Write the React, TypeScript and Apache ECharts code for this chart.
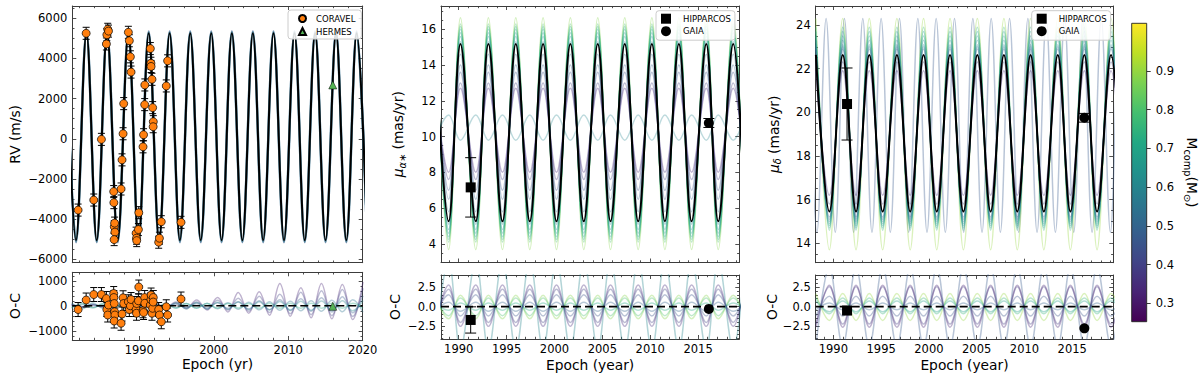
import React, { useEffect, useRef } from "react";
import * as echarts from "echarts";

// ================= Left column: radial velocity =================
const rvEpochLimits = [1981.0, 2020.0];
const rvEpochTicks = [1990, 2000, 2010, 2020];
const rvLimits = [-6170, 6610];
const rvTicks = [-6000, -4000, -2000, 0, 2000, 4000, 6000];
const rvOCLimits = [-1370, 1340];
const rvOCTicks = [-1000, 0, 1000];

// best-fit orbit: epochs of maxima / minima and their values
const rvFitPeakEpochs = [1980.11, 1982.9, 1985.67, 1988.53, 1991.26, 1994.07, 1996.84, 1999.66, 2002.43, 2005.25, 2008.02, 2010.84, 2013.61, 2016.42, 2019.19];
const rvFitTroughEpochs = [1981.5, 1984.28, 1987.1, 1989.9, 1992.66, 1995.45, 1998.25, 2001.05, 2003.84, 2006.63, 2009.43, 2012.22, 2015.01, 2017.8, 2020.6];
const rvFitPeak = 5250;
const rvFitTrough = -5050;
// posterior draws (nearly identical in RV)
const rvDrawMass = [0.45, 0.52, 0.6];
const rvDrawPeak = [5350, 5320, 5290];
const rvDrawTrough = [-5160, -5130, -5100];

// CORAVEL observations
const coravelEpoch = [1981.78, 1982.86, 1983.88, 1984.91, 1985.58, 1985.64, 1985.76, 1985.86, 1986.56, 1986.58, 1986.64, 1986.68, 1986.72, 1986.62, 1987.55, 1987.68, 1987.82, 1987.9, 1988.53, 1988.66, 1988.8, 1988.89, 1989.57, 1989.62, 1989.65, 1989.88, 1989.93, 1990.5, 1990.57, 1990.72, 1990.74, 1991.48, 1991.56, 1991.58, 1991.7, 1991.79, 1991.88, 1991.86, 1992.6, 1992.7, 1992.95, 1993.62, 1993.8, 1995.6];
const coravelRV = [-3550, 5250, -3050, -30, 4720, 5180, 5450, 5360, -2630, -3180, -4380, -4200, -4650, -5020, -2500, -1050, 250, 1750, 5300, 4880, 4080, 3320, -4700, -4950, -5070, -4520, -3680, -400, 200, 1700, 2680, 4490, 3760, 3600, 2960, 1550, 850, 600, -5150, -4950, -4130, 2630, 3880, -4160];
const coravelOC = [-150, 230, 450, 450, 290, -150, -370, 30, 490, 330, 90, -240, -370, -610, -700, -330, 320, 90, 160, -150, 0, 250, -150, -300, 90, 200, 750, -200, -270, 330, 100, 30, 250, 430, -300, -100, 330, 150, -150, -370, -640, -40, -370, 270];
const coravelRVErr = 300;
const coravelOCErr = 280;

// HERMES observation
const hermesEpoch = [2015.98];
const hermesRV = [2680];
const hermesOC = [-20];

// O-C of posterior draws (residual maxima / minima)
const rvOCPeakEpochs = [1980.9, 1983.75, 1986.52, 1989.38, 1992.11, 1994.92, 1997.69, 2000.51, 2003.28, 2006.1, 2008.87, 2011.69, 2014.46, 2017.27, 2020.04];
const rvOCTroughEpochs = [1982.35, 1985.13, 1987.95, 1990.75, 1993.51, 1996.3, 1999.1, 2001.9, 2004.69, 2007.48, 2010.28, 2013.07, 2015.86, 2018.65];
const rvOCDrawMass = [0.33, 0.4, 0.47, 0.55, 0.6, 0.72];
const rvOCDrawPeaks = [
  [60, 60, 60, 70, 100, 150, 230, 330, 530, 560, 890, 720, 890, 850, 960],
  [40, 40, 40, 50, 70, 100, 150, 220, 300, 380, 460, 540, 600, 650, 700],
  [30, 30, 30, 40, 50, 70, 90, 120, 160, 200, 240, 280, 320, 360, 400],
  [-60, -60, -60, -70, -80, -90, -100, -120, -140, -160, -180, -200, -220, -240, -260],
  [120, 110, 100, 100, 110, 120, 130, 140, 150, 160, 170, 180, 190, 200, 210],
  [-90, -90, -80, -80, -80, -90, -90, -90, -90, -100, -100, -100, -100, -100, -100],
];
const rvOCDrawTroughs = [
  [-60, -60, -60, -70, -90, -120, -170, -250, -300, -380, -420, -480, -520, -550],
  [-40, -40, -40, -50, -70, -90, -130, -170, -220, -270, -320, -360, -400, -430],
  [-30, -30, -30, -40, -50, -60, -80, -100, -130, -160, -190, -220, -250, -280],
  [60, 60, 60, 70, 80, 90, 100, 120, 140, 160, 180, 200, 220, 240],
  [-120, -110, -100, -100, -110, -120, -130, -140, -150, -160, -170, -180, -190, -200],
  [90, 90, 80, 80, 80, 90, 90, 90, 90, 100, 100, 100, 100, 100],
];

// ================= Middle column: proper motion in RA =================
const pmEpochLimits = [1988.15, 2019.3];
const pmEpochTicks = [1990, 1995, 2000, 2005, 2010, 2015];
const pmOCLimits = [-4.1, 4.0];
const pmOCTicks = [-2.5, 0, 2.5];
const pmraLimits = [2.96, 17.3];
const pmraTicks = [4, 6, 8, 10, 12, 14, 16];

const pmraFitPeakEpochs = [1987.5, 1990.18, 1993.1, 1995.96, 1998.81, 2001.66, 2004.52, 2007.34, 2010.17, 2012.99, 2015.85, 2018.66];
const pmraFitTroughEpochs = [1988.95, 1991.78, 1994.57, 1997.42, 2000.21, 2003.06, 2005.85, 2008.74, 2011.53, 2014.32, 2017.1, 2019.9];
const pmraFitPeak = 15.18;
const pmraFitTrough = 5.26;
const pmraDrawMass = [0.88, 0.8, 0.75, 0.72, 0.68, 0.65, 0.6, 0.55, 0.5, 0.45, 0.4, 0.35];
const pmraDrawPeak = [16.65, 16.3, 16.15, 16.0, 15.8, 15.6, 15.3, 14.6, 14.0, 13.6, 13.0, 12.7];
const pmraDrawTrough = [3.68, 4.1, 4.25, 4.4, 4.6, 4.8, 5.1, 5.8, 6.5, 7.0, 7.6, 8.0];
const pmraFlatMass = 0.6;
const pmraFlatAtPeak = 9.8;
const pmraFlatAtTrough = 11.2;
const pmraOCDrawMass = [0.88, 0.8, 0.72, 0.5, 0.45, 0.4, 0.35, 0.6];
const pmraOCAtPeak = [1.45, 1.1, 0.45, -0.6, -1.2, -2.0, -2.5, -5.4];
const pmraOCAtTrough = [-1.55, -1.15, -0.45, 0.55, 1.5, 2.2, 2.75, 5.9];

const hipRAEpoch = [1991.25];
const hipRA = [7.16];
const hipRAErr = [1.66];
const hipRAOC = [-1.69];
const gaiaRAEpoch = [2016.12];
const gaiaRA = [10.76];
const gaiaRAErr = [0.25];
const gaiaRAOC = [-0.29];

// ================= Right column: proper motion in Dec =================
const pmdecLimits = [13.11, 24.87];
const pmdecTicks = [14, 16, 18, 20, 22, 24];
const pmdecFitPeakEpochs = [1988.17, 1990.98, 1993.76, 1996.65, 1999.44, 2002.21, 2005.07, 2007.85, 2010.64, 2013.49, 2016.27, 2019.06];
const pmdecFitTroughEpochs = [1989.58, 1992.37, 1995.16, 1998.04, 2000.82, 2003.61, 2006.46, 2009.25, 2012.03, 2014.81, 2017.6, 2020.4];
const pmdecFitPeak = 22.63;
const pmdecFitTrough = 15.45;
const pmdecDrawMass = [0.9, 0.76, 0.7, 0.68, 0.64, 0.6, 0.55, 0.5, 0.42, 0.35];
const pmdecDrawPeak = [24.3, 23.9, 23.7, 23.5, 23.3, 23.1, 23.0, 22.9, 22.3, 21.9];
const pmdecDrawTrough = [13.7, 14.6, 14.7, 14.8, 14.9, 15.0, 15.1, 15.2, 15.8, 16.2];
const pmdecFastMass = 0.47;
const pmdecFastPeakEpochs = [1987.32, 1989.24, 1991.16, 1993.08, 1995.0, 1996.92, 1998.84, 2000.76, 2002.68, 2004.6, 2006.52, 2008.44, 2010.36, 2012.28, 2014.2, 2016.12, 2018.04, 2019.96];
const pmdecFastTroughEpochs = [1988.28, 1990.2, 1992.12, 1994.04, 1995.96, 1997.88, 1999.8, 2001.72, 2003.64, 2005.56, 2007.48, 2009.4, 2011.32, 2013.24, 2015.16, 2017.08, 2019.0, 2020.92];
const pmdecFastPeak = 24.3;
const pmdecFastTrough = 14.5;
const pmdecOCDrawMass = [0.9, 0.76, 0.68, 0.5, 0.45, 0.38, 0.33, 0.47];
const pmdecOCAtPeak = [1.65, 1.1, 0.7, -0.4, -1.2, -2.2, -2.6, -5.0];
const pmdecOCAtTrough = [-1.75, -0.9, -0.65, 0.45, 1.3, 2.5, 2.7, 5.0];

const hipDecEpoch = [1991.43];
const hipDec = [20.38];
const hipDecErr = [1.65];
const hipDecOC = [-0.5];
const gaiaDecEpoch = [2016.27];
const gaiaDec = [19.75];
const gaiaDecErr = [0.2];
const gaiaDecOC = [-2.75];

// ================= Colour bar =================
const massLimits = [0.253, 1.023];
const massTicks = [0.3, 0.4, 0.5, 0.6, 0.7, 0.8, 0.9];

// ================= styling helpers =================
const FONT = "DejaVu Sans";
const FRAME = "#3c3c3c";
const TICK_FS = 11.5;
const NAME_FS = 13.8;
const VIRIDIS = ["#440154", "#482475", "#414487", "#355f8d", "#2a788e", "#21918c", "#22a884", "#44bf70", "#7ad151", "#bddf26", "#fde725"];

function hexToRgb(h: string) {
  return [parseInt(h.slice(1, 3), 16), parseInt(h.slice(3, 5), 16), parseInt(h.slice(5, 7), 16)];
}
function viridis(t: number) {
  const c = Math.max(0, Math.min(1, t)) * 10;
  const i = Math.min(9, Math.floor(c));
  const f = c - i;
  const a = hexToRgb(VIRIDIS[i]);
  const b = hexToRgb(VIRIDIS[i + 1]);
  const m = a.map((v, k) => Math.round(v + (b[k] - v) * f));
  return `rgb(${m[0]},${m[1]},${m[2]})`;
}
function massColor(m: number) {
  return viridis((m - massLimits[0]) / (massLimits[1] - massLimits[0]));
}
const minusFmt = (d: number) => (v: number) => {
  const s = Math.abs(v).toFixed(d);
  return v < -1e-9 ? "\u2212" + s : s;
};
function minorTicks(min: number, max: number, step: number, majors: number[]) {
  const out: number[] = [];
  const start = Math.ceil(min / step - 1e-9);
  for (let k = start; k * step <= max + 1e-9; k++) {
    const v = Math.round(k * step * 1e6) / 1e6;
    if (!majors.some((m) => Math.abs(m - v) < 1e-6)) out.push(v);
  }
  return out;
}
function wave(peakE: number[], troughE: number[], peakV: number | number[], troughV: number | number[]) {
  const pts: number[][] = [];
  peakE.forEach((e, i) => pts.push([e, Array.isArray(peakV) ? peakV[i] : peakV]));
  troughE.forEach((e, i) => pts.push([e, Array.isArray(troughV) ? troughV[i] : troughV]));
  pts.sort((a, b) => a[0] - b[0]);
  return pts;
}
function zip(xs: number[], ys: number[], es?: number[] | number) {
  return xs.map((x, i) => (es === undefined ? [x, ys[i]] : [x, ys[i], Array.isArray(es) ? es[i] : es]));
}

interface AxSpec {
  min: number;
  max: number;
  major: number[];
  minorStep: number;
  labels: boolean;
  fmt?: (v: number) => string;
  name?: string;
  nameGap?: number;
  rich?: any;
}

function buildOption() {
  const grids: any[] = [];
  const xAxes: any[] = [];
  const yAxes: any[] = [];
  const series: any[] = [];

  function panel(rect: number[], xs: AxSpec, ys: AxSpec) {
    const g = grids.length;
    grids.push({ left: rect[0], top: rect[1], width: rect[2], height: rect[3], containLabel: false, outerBoundsMode: "none", show: false });
    const xi = xAxes.length;
    const yi = yAxes.length;
    const mk = (dim: string, s: AxSpec, pos: string, minor: boolean, main: boolean) => {
      const ticks = minor ? minorTicks(s.min, s.max, s.minorStep, s.major) : s.major;
      const a: any = {
        gridIndex: g,
        type: "value",
        min: s.min,
        max: s.max,
        position: pos,
        silent: true,
        splitLine: { show: false },
        splitArea: { show: false },
        minorTick: { show: false },
        axisLine: { show: !minor, onZero: false, lineStyle: { color: FRAME, width: 1 } },
        axisTick: { show: true, inside: true, length: minor ? 2.2 : 4, customValues: ticks, lineStyle: { color: FRAME, width: 0.9 } },
        axisLabel: {
          show: main && s.labels,
          customValues: s.major,
          color: "#000",
          fontSize: TICK_FS,
          fontFamily: FONT,
          margin: dim === "x" ? 4 : 5,
          formatter: s.fmt || minusFmt(0),
        },
      };
      if (main && s.name) {
        a.name = s.name;
        a.nameLocation = "middle";
        a.nameGap = s.nameGap;
        a.nameTextStyle = { fontSize: NAME_FS, fontFamily: FONT, color: "#000", rich: s.rich };
      }
      return a;
    };
    xAxes.push(mk("x", xs, "bottom", false, true), mk("x", xs, "bottom", true, false), mk("x", xs, "top", false, false), mk("x", xs, "top", true, false));
    yAxes.push(mk("y", ys, "left", false, true), mk("y", ys, "left", true, false), mk("y", ys, "right", false, false), mk("y", ys, "right", true, false));
    return { xi, yi };
  }

  const line = (ax: any, data: number[][], color: string, width: number, opacity: number, z: number, extra: any = {}) => ({
    type: "line",
    xAxisIndex: ax.xi,
    yAxisIndex: ax.yi,
    data,
    smooth: 0.36,
    symbol: "none",
    silent: true,
    z,
    lineStyle: { color, width, opacity },
    ...extra,
  });
  const errBars = (ax: any, data: number[][], cap: number, z: number) => ({
    type: "custom",
    xAxisIndex: ax.xi,
    yAxisIndex: ax.yi,
    data,
    encode: { x: 0, y: 1 },
    silent: true,
    z,
    renderItem: (_p: any, api: any) => {
      const x = api.value(0);
      const y = api.value(1);
      const e = api.value(2);
      const t = api.coord([x, y + e]);
      const b = api.coord([x, y - e]);
      const st = { stroke: "#000", lineWidth: 1 };
      return {
        type: "group",
        children: [
          { type: "line", shape: { x1: t[0], y1: t[1], x2: b[0], y2: b[1] }, style: st },
          { type: "line", shape: { x1: t[0] - cap, y1: t[1], x2: t[0] + cap, y2: t[1] }, style: st },
          { type: "line", shape: { x1: b[0] - cap, y1: b[1], x2: b[0] + cap, y2: b[1] }, style: st },
        ],
      };
    },
  });
  const zeroLine = (ax: any, lim: number[]) =>
    line(ax, [[lim[0], 0], [lim[1], 0]], "#000", 1.6, 1, 6, { smooth: false, lineStyle: { color: "#000", width: 1.6, type: [8, 4] } });

  const nameRich = {
    mu: { fontSize: NAME_FS, fontFamily: FONT, fontStyle: "italic", lineHeight: 18 },
    sub: { fontSize: 9.8, fontFamily: FONT, fontStyle: "italic", verticalAlign: "bottom", lineHeight: 10 },
    t: { fontSize: NAME_FS, fontFamily: FONT, lineHeight: 18 },
    m: { fontSize: NAME_FS, fontFamily: FONT, lineHeight: 18 },
    s: { fontSize: 9.8, fontFamily: FONT, verticalAlign: "bottom", lineHeight: 10 },
  };

  // ---------- grids ----------
  const xRV: AxSpec = { min: rvEpochLimits[0], max: rvEpochLimits[1], major: rvEpochTicks, minorStep: 2, labels: false };
  const xPM: AxSpec = { min: pmEpochLimits[0], max: pmEpochLimits[1], major: pmEpochTicks, minorStep: 1, labels: false };
  const ocY = (gap: number): AxSpec => ({ min: pmOCLimits[0], max: pmOCLimits[1], major: pmOCTicks, minorStep: 0.5, labels: true, fmt: minusFmt(1), name: "O-C", nameGap: gap });

  const a1 = panel([72.3, 6, 290.4, 256.7], xRV, { min: rvLimits[0], max: rvLimits[1], major: rvTicks, minorStep: 500, labels: true, fmt: minusFmt(0), name: "RV (m/s)", nameGap: 50 });
  const a1r = panel([72.3, 272.3, 290.4, 67.7], { ...xRV, labels: true, name: "Epoch (yr)", nameGap: 16 }, { min: rvOCLimits[0], max: rvOCLimits[1], major: rvOCTicks, minorStep: 200, labels: true, fmt: minusFmt(0), name: "O-C", nameGap: 50 });
  const a2 = panel([441, 6, 298.3, 256.5], xPM, { min: pmraLimits[0], max: pmraLimits[1], major: pmraTicks, minorStep: 0.5, labels: true, name: "{mu|\u03bc}{sub|\u03b1\u2217}{t| (mas/yr)}", nameGap: 34, rich: nameRich });
  const a2r = panel([441, 275, 298.3, 64], { ...xPM, labels: true, name: "Epoch (year)", nameGap: 19 }, ocY(39));
  const a3 = panel([815.7, 6, 297.6, 256.7], xPM, { min: pmdecLimits[0], max: pmdecLimits[1], major: pmdecTicks, minorStep: 0.5, labels: true, name: "{mu|\u03bc}{sub|\u03b4}{t| (mas/yr)}", nameGap: 33, rich: nameRich });
  const a3r = panel([815.7, 275, 297.6, 64], { ...xPM, labels: true, name: "Epoch (year)", nameGap: 19 }, ocY(37));

  // colour bar axis
  const cbRect = [1131.7, 23.3, 15, 298.4];
  grids.push({ left: cbRect[0], top: cbRect[1], width: cbRect[2], height: cbRect[3], containLabel: false, outerBoundsMode: "none", show: false });
  const cbG = grids.length - 1;
  xAxes.push({ gridIndex: cbG, type: "value", min: 0, max: 1, show: false });
  yAxes.push({
    gridIndex: cbG,
    type: "value",
    min: massLimits[0],
    max: massLimits[1],
    position: "right",
    silent: true,
    splitLine: { show: false },
    axisLine: { show: false, onZero: false },
    axisTick: { show: true, inside: false, length: 4, customValues: massTicks, lineStyle: { color: "#222", width: 0.9 } },
    axisLabel: { customValues: massTicks, formatter: minusFmt(1), color: "#000", fontSize: TICK_FS, fontFamily: FONT, margin: 9 },
    name: "{m|M}{s|comp}{m|(M}{s|\u2299}{m|)}",
    nameLocation: "middle",
    nameRotate: -90,
    nameGap: 36,
    nameTextStyle: { fontSize: NAME_FS, fontFamily: FONT, color: "#000", rich: nameRich },
  });

  const pt = (name: string, ax: any, data: number[][], symbol: string, size: number, color: string, bw: number) => ({
    type: "scatter",
    name,
    xAxisIndex: ax.xi,
    yAxisIndex: ax.yi,
    data,
    symbol,
    symbolSize: size,
    z: 8,
    silent: true,
    itemStyle: { color, borderColor: "#000", borderWidth: bw, opacity: 1 },
  });

  // ---------- RV panel ----------
  rvDrawMass.forEach((m, i) => series.push(line(a1, wave(rvFitPeakEpochs, rvFitTroughEpochs, rvDrawPeak[i], rvDrawTrough[i]), massColor(m), 2.4, 0.45, 2)));
  series.push(line(a1, wave(rvFitPeakEpochs, rvFitTroughEpochs, rvFitPeak, rvFitTrough), "#000", 2, 1, 3));
  series.push(errBars(a1, zip(coravelEpoch, coravelRV, coravelRVErr), 3.5, 7));
  series.push(pt("CORAVEL", a1, zip(coravelEpoch, coravelRV), "circle", 8, "#ff7f0e", 0.7));
  series.push(pt("HERMES", a1, zip(hermesEpoch, hermesRV), "triangle", 8, "#55b455", 0.5));

  // RV O-C
  rvOCDrawMass.forEach((m, i) => series.push(line(a1r, wave(rvOCPeakEpochs, rvOCTroughEpochs, rvOCDrawPeaks[i], rvOCDrawTroughs[i]), massColor(m), 1.5, 0.35, 2)));
  series.push(zeroLine(a1r, rvEpochLimits));
  series.push(errBars(a1r, zip(coravelEpoch, coravelOC, coravelOCErr), 3.5, 7));
  series.push(pt("CORAVEL O-C", a1r, zip(coravelEpoch, coravelOC), "circle", 8, "#ff7f0e", 0.7));
  series.push(pt("HERMES O-C", a1r, zip(hermesEpoch, hermesOC), "triangle", 8, "#55b455", 0.5));

  // ---------- pmRA panel ----------
  series.push(line(a2, wave(pmraFitPeakEpochs, pmraFitTroughEpochs, pmraFlatAtPeak, pmraFlatAtTrough), massColor(pmraFlatMass), 1.5, 0.3, 2));
  pmraDrawMass.forEach((m, i) => series.push(line(a2, wave(pmraFitPeakEpochs, pmraFitTroughEpochs, pmraDrawPeak[i], pmraDrawTrough[i]), massColor(m), 1.5, 0.35, 2)));
  series.push(line(a2, wave(pmraFitPeakEpochs, pmraFitTroughEpochs, pmraFitPeak, pmraFitTrough), "#000", 2, 1, 4));
  series.push(errBars(a2, zip(hipRAEpoch, hipRA, hipRAErr), 5.5, 7));
  series.push(errBars(a2, zip(gaiaRAEpoch, gaiaRA, gaiaRAErr), 5.5, 7));
  series.push(pt("HIPPARCOS", a2, zip(hipRAEpoch, hipRA), "rect", 10, "#000", 0));
  series.push(pt("GAIA", a2, zip(gaiaRAEpoch, gaiaRA), "circle", 10, "#000", 0));

  pmraOCDrawMass.forEach((m, i) => series.push(line(a2r, wave(pmraFitPeakEpochs, pmraFitTroughEpochs, pmraOCAtPeak[i], pmraOCAtTrough[i]), massColor(m), 1.5, 0.35, 2)));
  series.push(zeroLine(a2r, pmEpochLimits));
  series.push(errBars(a2r, zip(hipRAEpoch, hipRAOC, hipRAErr), 5.5, 7));
  series.push(pt("HIPPARCOS O-C", a2r, zip(hipRAEpoch, hipRAOC), "rect", 10, "#000", 0));
  series.push(pt("GAIA O-C", a2r, zip(gaiaRAEpoch, gaiaRAOC), "circle", 10, "#000", 0));

  // ---------- pmDec panel ----------
  series.push(line(a3, wave(pmdecFastPeakEpochs, pmdecFastTroughEpochs, pmdecFastPeak, pmdecFastTrough), massColor(pmdecFastMass), 1.5, 0.35, 2));
  pmdecDrawMass.forEach((m, i) => series.push(line(a3, wave(pmdecFitPeakEpochs, pmdecFitTroughEpochs, pmdecDrawPeak[i], pmdecDrawTrough[i]), massColor(m), 1.5, 0.35, 2)));
  series.push(line(a3, wave(pmdecFitPeakEpochs, pmdecFitTroughEpochs, pmdecFitPeak, pmdecFitTrough), "#000", 2, 1, 4));
  series.push(errBars(a3, zip(hipDecEpoch, hipDec, hipDecErr), 5.5, 7));
  series.push(errBars(a3, zip(gaiaDecEpoch, gaiaDec, gaiaDecErr), 5.5, 7));
  series.push(pt("HIPPARCOS", a3, zip(hipDecEpoch, hipDec), "rect", 10, "#000", 0));
  series.push(pt("GAIA", a3, zip(gaiaDecEpoch, gaiaDec), "circle", 10, "#000", 0));

  pmdecOCDrawMass.forEach((m, i) => series.push(line(a3r, wave(pmdecFitPeakEpochs, pmdecFitTroughEpochs, pmdecOCAtPeak[i], pmdecOCAtTrough[i]), massColor(m), 1.5, 0.35, 2)));
  series.push(zeroLine(a3r, pmEpochLimits));
  series.push(pt("HIPPARCOS O-C", a3r, zip(hipDecEpoch, hipDecOC), "rect", 10, "#000", 0));
  series.push(pt("GAIA O-C", a3r, zip(gaiaDecEpoch, gaiaDecOC), "circle", 10, "#000", 0));

  const legendBase = {
    orient: "vertical",
    selectedMode: false,
    backgroundColor: "rgba(255,255,255,0.85)",
    borderColor: "#cccccc",
    borderWidth: 1,
    borderRadius: 3,
    textStyle: { fontSize: 8.5, fontFamily: FONT, color: "#000" },
  };
  const legends = [
    { ...legendBase, data: ["CORAVEL", "HERMES"], left: 288, top: 10, itemWidth: 7, itemHeight: 7, itemGap: 4, padding: [4, 6, 3, 10], textStyle: { ...legendBase.textStyle, padding: [0, 0, 0, 5] } },
    { ...legendBase, data: ["HIPPARCOS", "GAIA"], left: 656, top: 10.7, itemWidth: 10, itemHeight: 10, itemGap: 2.5, padding: [3, 4, 4, 5], textStyle: { ...legendBase.textStyle, padding: [0, 0, 0, 7] } },
    { ...legendBase, data: ["HIPPARCOS", "GAIA"], left: 1031.7, top: 10.7, itemWidth: 10, itemHeight: 10, itemGap: 2.5, padding: [3, 4, 4, 5], textStyle: { ...legendBase.textStyle, padding: [0, 0, 0, 7] } },
  ];

  const gradStops = VIRIDIS.slice().reverse().map((c, i) => ({ offset: i / 10, color: c }));

  return {
    animation: false,
    backgroundColor: "#ffffff",
    textStyle: { fontFamily: FONT },
    grid: grids,
    xAxis: xAxes,
    yAxis: yAxes,
    legend: legends,
    series,
    graphic: [
      {
        type: "rect",
        silent: true,
        z: 1,
        shape: { x: cbRect[0], y: cbRect[1], width: cbRect[2], height: cbRect[3] },
        style: { fill: new echarts.graphic.LinearGradient(0, 0, 0, 1, gradStops), stroke: "#222", lineWidth: 0.9 },
      },
    ],
  };
}

export default function App() {
  const ref = useRef<HTMLDivElement>(null);
  useEffect(() => {
    if (!ref.current) return;
    const chart = echarts.init(ref.current, undefined, { renderer: "svg" });
    chart.setOption(buildOption() as any);
    return () => chart.dispose();
  }, []);
  return <div ref={ref} style={{ position: "fixed", left: 0, top: 0, width: 1200, height: 381, background: "#fff" }} />;
}
